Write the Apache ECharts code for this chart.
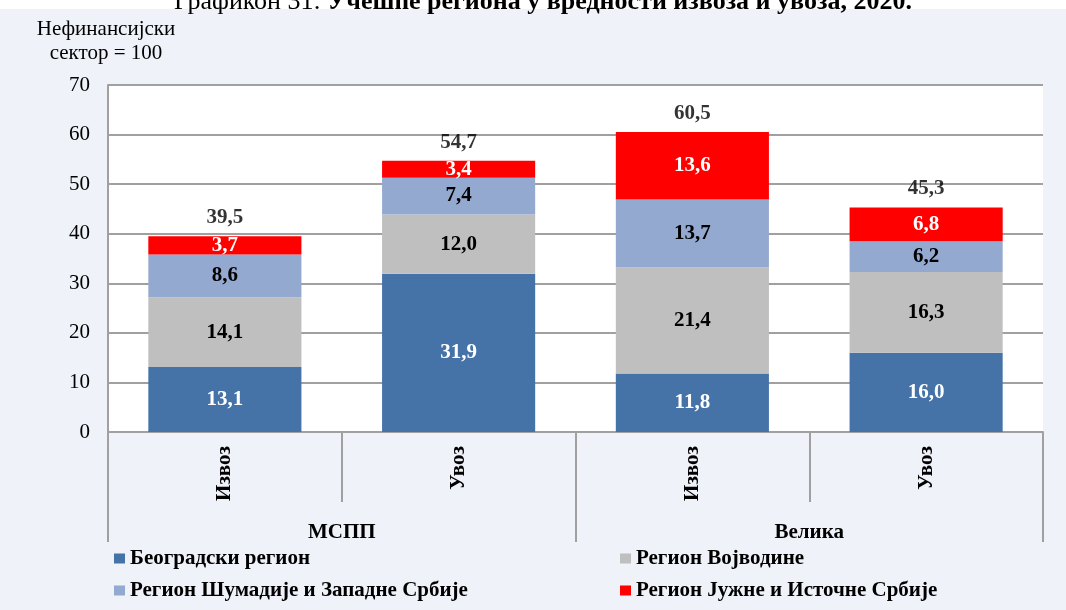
<!DOCTYPE html>
<html>
<head>
<meta charset="utf-8">
<script src="https://cdn.jsdelivr.net/npm/echarts@6/dist/echarts.min.js"></script>
<style>
html,body{margin:0;padding:0;background:#ffffff;}
#main{width:1066px;height:610px;}
</style>
</head>
<body>
<div id="main"></div>
<script>
const categories = ['Извоз', 'Увоз', 'Извоз', 'Увоз'];
const groups = ['МСПП', 'Велика'];
const seriesNames = ['Београдски регион', 'Регион Војводине', 'Регион Шумадије и Западне Србије', 'Регион Јужне и Источне Србије'];
const belgrade = [13.1, 31.9, 11.8, 16.0];
const vojvodina = [14.1, 12.0, 21.4, 16.3];
const sumadija = [8.6, 7.4, 13.7, 6.2];
const south = [3.7, 3.4, 13.6, 6.8];
const totals = [39.5, 54.7, 60.5, 45.3];
const yTicks = [0, 10, 20, 30, 40, 50, 60, 70];

const FONT = 'Liberation Serif';
const colors = ['#4573a7', '#bfbfbf', '#94a9d0', '#ff0000'];
const labelColors = ['#ffffff', '#000000', '#000000', '#ffffff'];
const fmt = v => Number(v).toFixed(1).replace('.', ',');

const chart = echarts.init(document.getElementById('main'), null, {renderer: 'canvas'});

const barSeries = [belgrade, vojvodina, sumadija, south].map((d, i) => ({
  name: seriesNames[i],
  type: 'bar',
  stack: 'total',
  xAxisIndex: 0,
  barWidth: '65.5%',
  data: d,
  itemStyle: {color: colors[i]},
  label: {
    show: true,
    position: 'inside',
    formatter: p => fmt(p.value),
    color: labelColors[i],
    fontFamily: FONT,
    fontWeight: 'bold',
    fontSize: 21
  },
  emphasis: {disabled: true}
}));

const legendCommon = {
  orient: 'vertical', top: 548, itemGap: 11, padding: 0,
  itemWidth: 11, itemHeight: 10, icon: 'rect', itemStyle: {borderWidth: 0},
  textStyle: {fontFamily: FONT, fontWeight: 'bold', fontSize: 21, color: '#000'},
  selectedMode: false
};

const option = {
  backgroundColor: '#eff2f8',
  animation: false,
  graphic: [
    {type: 'rect', left: 0, top: 0, shape: {x: 0, y: 0, width: 1066, height: 9}, style: {fill: '#ffffff'}, z: 0},
    {type: 'text', x: 543, y: 15, z: 10, style: {
      text: '{a|Графикон 31: }{b|Учешће региона у вредности извоза и увоза, 2020.}',
      textAlign: 'center', textVerticalAlign: 'bottom',
      rich: {
        a: {fontFamily: FONT, fontSize: 26, fill: '#000', fontWeight: 'normal'},
        b: {fontFamily: FONT, fontSize: 26, fill: '#000', fontWeight: 'bold'}
      }
    }},
    {type: 'text', x: 106, y: 41, z: 10, style: {
      text: 'Нефинансијски\nсектор = 100',
      textAlign: 'center', textVerticalAlign: 'middle',
      fontFamily: FONT, fontSize: 21, lineHeight: 24, fill: '#000'
    }}
  ],
  grid: {
    left: 108, right: 23, top: 85, bottom: 178,
    show: true, backgroundColor: '#ffffff', borderWidth: 0
  },
  legend: [
    Object.assign({data: [seriesNames[0], seriesNames[2]], left: 114}, legendCommon),
    Object.assign({data: [seriesNames[1], seriesNames[3]], left: 620}, legendCommon)
  ],
  xAxis: [
    {
      type: 'category', data: categories, position: 'bottom',
      axisLine: {show: true, lineStyle: {color: '#a0a0a0', width: 2}},
      axisTick: {show: true, length: 70, lineStyle: {color: '#a0a0a0', width: 2}},
      axisLabel: {interval: 0, rotate: 90, margin: 14, fontFamily: FONT, fontWeight: 'bold', fontSize: 21, color: '#000'},
      splitLine: {show: false}
    },
    {
      type: 'category', data: groups, position: 'bottom', gridIndex: 0,
      axisLine: {show: false},
      axisTick: {show: true, length: 110, lineStyle: {color: '#a0a0a0', width: 2}},
      axisLabel: {interval: 0, margin: 90, fontFamily: FONT, fontWeight: 'bold', fontSize: 21, color: '#000'},
      splitLine: {show: false}
    }
  ],
  yAxis: {
    type: 'value', min: yTicks[0], max: yTicks[yTicks.length - 1], interval: 10,
    axisLine: {show: true, lineStyle: {color: '#a0a0a0', width: 2}},
    axisTick: {show: false},
    axisLabel: {margin: 18, fontFamily: FONT, fontSize: 21, color: '#000'},
    splitLine: {show: true, lineStyle: {color: '#a0a0a0', width: 2}}
  },
  series: barSeries.concat([{
    name: 'Укупно',
    type: 'scatter',
    xAxisIndex: 0,
    data: totals,
    symbolSize: 0,
    label: {
      show: true, position: 'top', distance: 8,
      formatter: p => fmt(p.value),
      fontFamily: FONT, fontWeight: 'bold', fontSize: 21, color: '#000'
    },
    z: 5
  }])
};
chart.setOption(option);
</script>
</body>
</html>
